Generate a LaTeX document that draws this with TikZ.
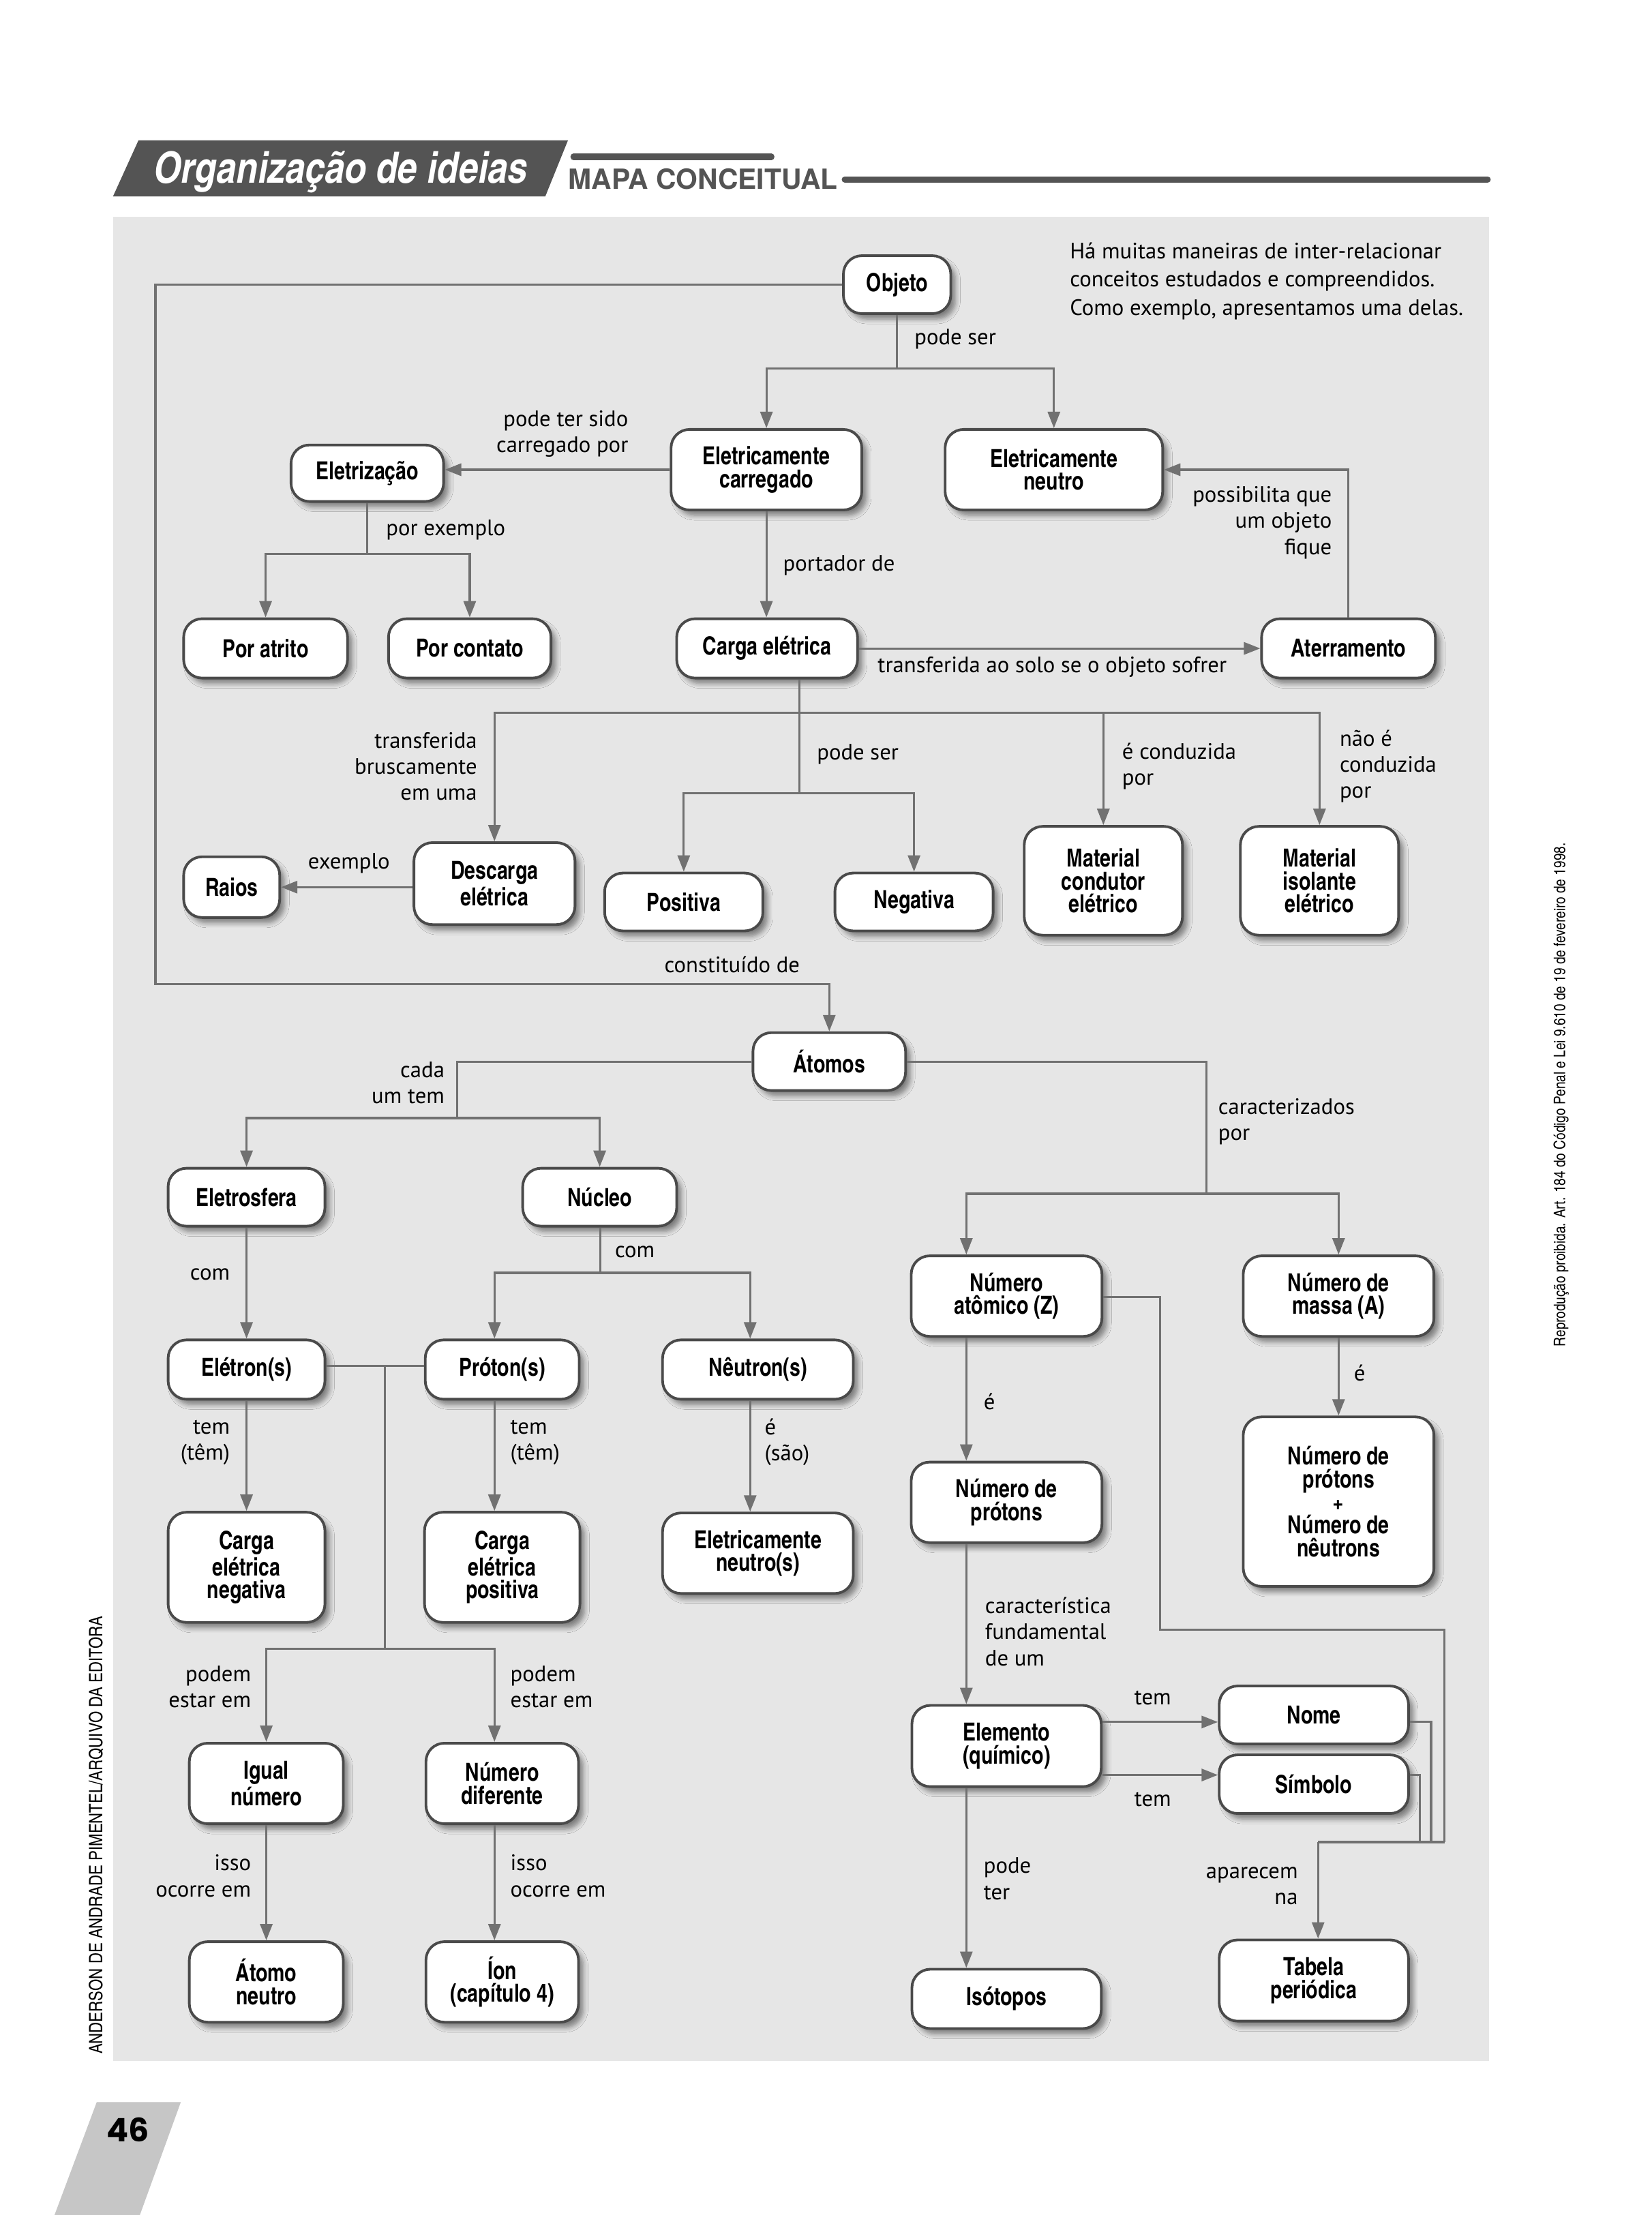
\documentclass[tikz,border=0pt]{standalone}
\usepackage{fontspec}
\setmainfont{PT Sans}
\newfontfamily\cnbold[FakeStretch=0.95]{texgyreheroscn-bold.otf}
\newfontfamily\cnbolditalic{texgyreheroscn-bolditalic.otf}
\newfontfamily\cnregular{texgyreheroscn-regular.otf}
\newfontfamily\herosbold{texgyreheros-bold.otf}
\newfontfamily\pagenumfont{Poppins}
\usetikzlibrary{arrows.meta,shadows.blur,calc}

\definecolor{panelgray}{HTML}{E6E6E6}
\definecolor{headgray}{HTML}{545454}
\definecolor{tabgray}{HTML}{C6C6C6}
\definecolor{linkgray}{HTML}{717171}
\definecolor{boxedge}{HTML}{4A4A4A}

\tikzset{
  cbox/.style={draw=boxedge, line width=1.1pt, fill=white, rounded corners=2.7mm,
    align=center, inner sep=0pt, font=\cnbold\fontsize{10.4}{9.6}\selectfont,
    blur shadow={shadow xshift=0.7mm, shadow yshift=-0.8mm, shadow blur radius=0.7mm,
      shadow blur steps=6, shadow opacity=45}},
  link/.style={draw=linkgray, line width=0.9pt},
  linkarrow/.style={link, -{Triangle[length=2.4mm,width=1.8mm]}},
  lbl/.style={font=\fontsize{9.3}{10.9}\selectfont, inner sep=0pt},
  lblL/.style={lbl, anchor=west, align=left},
  lblR/.style={lbl, anchor=east, align=right},
}
% concept box: name, x, y, width, height, text (coordinates in layout units)
\newcommand\cbx[6]{\node[cbox, minimum width=#4*0.2072mm, minimum height=#5*0.2072mm] (#1) at (#2,#3) {#6};}

\begin{document}
\begin{tikzpicture}[x=0.2072mm, y=-0.2072mm]
\useasboundingbox (0,0) rectangle (1169,1568);
\fill[white] (0,0) rectangle (1169,1568);

% header
\fill[headgray] (98,99.4) -- (402,99.4) -- (386,139) -- (80,139) -- cycle;
\node[font=\cnbolditalic\fontsize{18}{20}\selectfont, text=white, inner sep=0pt] (title) at (241,122) {Organização de ideias};
\draw[headgray, line width=2.6pt, line cap=round] (406,111) -- (546,111);
\node[anchor=base west, inner sep=0pt, font=\herosbold\fontsize{11.6}{12}\selectfont, text=headgray] (mapa) at (402,134) {MAPA CONCEITUAL};
\draw[headgray, line width=2.6pt, line cap=round] (598,127) -- (1053,127);

% panel
\fill[panelgray] (80,153.5) rectangle (1054,1459);

% page tab
\fill[tabgray] (68.5,1488) -- (128,1488) -- (99,1568) -- (38.6,1568) -- cycle;
\node[font=\pagenumfont\bfseries\fontsize{13.5}{14}\selectfont, inner sep=0pt] (pagenum) at (90.5,1507.5) {46};

% side notes
\node[rotate=90, inner sep=0pt, font=\cnregular\fontsize{6.6}{7}\selectfont] (rights) at (1105,775) {Reprodução proibida. Art. 184 do Código Penal e Lei 9.610 de 19 de fevereiro de 1998.};
\node[rotate=90, inner sep=0pt, font=\cnregular\fontsize{7.7}{8}\selectfont] (credit) at (68,1299) {ANDERSON DE ANDRADE PIMENTEL/ARQUIVO DA EDITORA};

% intro
\node[lblL, font=\fontsize{9.3}{11.8}\selectfont] (intro) at (757,199) {Há muitas maneiras de inter-relacionar\\conceitos estudados e compreendidos.\\Como exemplo, apresentamos uma delas.};

% concept boxes
\cbx{obj}{635}{201.5}{76}{41}{Objeto}
\cbx{carr}{542.5}{332.5}{135}{57}{Eletricamente\\carregado}
\cbx{neu}{746}{332.5}{154}{57}{Eletricamente\\neutro}
\cbx{eletr}{260}{335}{108}{40}{Eletrização}
\cbx{atrito}{188}{459}{116}{42}{Por atrito}
\cbx{contato}{332.5}{459}{115}{42}{Por contato}
\cbx{carga}{543}{459}{128}{42}{Carga elétrica}
\cbx{ater}{954.5}{459}{123}{42}{Aterramento}
\cbx{raios}{164}{628}{68}{43}{Raios}
\cbx{desc}{350}{625.5}{114}{58}{Descarga\\elétrica}
\cbx{pos}{484}{638.5}{112}{41}{Positiva}
\cbx{neg}{647}{638.5}{112}{41}{Negativa}
\cbx{cond}{781}{623.5}{112}{77}{Material\\condutor\\elétrico}
\cbx{isol}{934}{623.5}{112}{77}{Material\\isolante\\elétrico}
\cbx{atomos}{587}{751.5}{108}{41}{Átomos}
\cbx{eletro}{174.5}{847.5}{111}{41}{Eletrosfera}
\cbx{nucleo}{424.5}{847.5}{109}{41}{Núcleo}
\cbx{eletron}{174.5}{969.5}{111}{42}{Elétron(s)}
\cbx{proton}{355.5}{969.5}{109}{42}{Próton(s)}
\cbx{neutron}{536.5}{969.5}{135}{42}{Nêutron(s)}
\cbx{cneg}{174.5}{1109.5}{111}{78}{Carga\\elétrica\\negativa}
\cbx{cpos}{355.5}{1109.5}{110}{78}{Carga\\elétrica\\positiva}
\cbx{eneu}{536.5}{1099.5}{135}{57}{Eletricamente\\neutro(s)}
\cbx{igual}{188.5}{1262.5}{109}{57}{Igual\\número}
\cbx{dif}{355.5}{1262.5}{108}{57}{Número\\diferente}
\cbx{aneu}{188.5}{1403}{109}{57}{Átomo\\neutro}
\cbx{ion}{355.5}{1403}{108}{57}{Íon\\(capítulo 4)}
\cbx{natom}{712.5}{917.5}{135}{57}{Número\\atômico (Z)}
\cbx{nmassa}{947.5}{917.5}{135}{57}{Número de\\massa (A)}
\cbx{soma}{947.5}{1063}{135}{120}{Número de\\prótons\\+\\Número de\\nêutrons}
\cbx{nprot}{712.5}{1063.5}{135}{57}{Número de\\prótons}
\cbx{elem}{712.5}{1236}{134}{57.5}{Elemento\\(químico)}
\cbx{nome}{930}{1214}{134}{41}{Nome}
\cbx{simb}{930}{1263}{134}{41.5}{Símbolo}
\cbx{isot}{712.5}{1415}{134}{42}{Isótopos}
\cbx{tabela}{930}{1402}{134}{57.5}{Tabela\\periódica}

% routing columns and rows
\coordinate (x350) at (350,0);
\coordinate (x531) at (531,0);
\coordinate (x684) at (684,0);
\coordinate (yNo) at (0,1219);
\coordinate (ySi) at (0,1256.5);
\coordinate (y918) at (0,918);

% Objeto
\coordinate (jObj) at (635,261);
\draw[link] (obj.south) -- (jObj);
\draw[linkarrow] (jObj) -| (carr.north);
\draw[linkarrow] (jObj) -| (neu.north);
\draw[linkarrow] (carr.west) -- (carr.west -| eletr.east);
\coordinate (jEl) at (260,392);
\draw[link] (eletr.south) -- (jEl);
\draw[linkarrow] (jEl) -| (atrito.north);
\draw[linkarrow] (jEl) -| (contato.north);
\draw[linkarrow] (carr.south) -- (carga.north -| carr.south);
\draw[linkarrow] (carga.east) -- (ater.west);
\draw[linkarrow] (ater.north) |- (neu.east);

% Carga elétrica
\coordinate (jCg) at (566,504.5);
\coordinate (jPs) at (566,561.5);
\draw[link] (carga.south -| jCg) -- (jPs);
\draw[linkarrow] (jCg) -| (desc.north);
\draw[linkarrow] (jCg) -| (cond.north);
\draw[linkarrow] (jCg) -| (isol.north);
\draw[linkarrow] (jPs) -| (pos.north);
\draw[linkarrow] (jPs) -| (neg.north);
\draw[linkarrow] (desc.west |- raios.east) -- (raios.east);

% Objeto -> Átomos
\coordinate (jLoop) at (110,696.5);
\draw[linkarrow] (obj.west) -| (jLoop) -| (atomos.north);

% Átomos
\coordinate (jAl) at (323.5,791.5);
\draw[link] (atomos.west) -| (jAl);
\draw[linkarrow] (jAl) -| (eletro.north);
\draw[linkarrow] (jAl) -| (nucleo.north);
\coordinate (jAr) at (854,845);
\draw[link] (atomos.east) -| (jAr);
\draw[linkarrow] (jAr) -| (natom.north -| x684);
\draw[linkarrow] (jAr) -| (nmassa.north);

% Eletrosfera and Núcleo
\draw[linkarrow] (eletro.south) -- (eletron.north);
\coordinate (jNu) at (425,901);
\draw[link] (nucleo.south -| jNu) -- (jNu);
\draw[linkarrow] (jNu) -| (proton.north -| x350);
\draw[linkarrow] (jNu) -| (neutron.north -| x531);
\draw[linkarrow] (eletron.south) -- (cneg.north);
\draw[linkarrow] (proton.south -| x350) -- (cpos.north -| x350);
\draw[linkarrow] (neutron.south -| x531) -- (eneu.north -| x531);

% Elétron(s) / Próton(s)
\coordinate (jEP) at (272.5,967);
\coordinate (jPd) at (272.5,1167);
\draw[link] (eletron.east |- jEP) -- (proton.west |- jEP);
\draw[link] (jEP) -- (jPd);
\draw[linkarrow] (jPd) -| (igual.north);
\draw[linkarrow] (jPd) -| (dif.north -| x350);
\draw[linkarrow] (igual.south) -- (aneu.north);
\draw[linkarrow] (dif.south -| x350) -- (ion.north -| x350);

% right column
\draw[linkarrow] (natom.south -| x684) -- (nprot.north -| x684);
\draw[linkarrow] (nprot.south -| x684) -- (elem.north -| x684);
\draw[linkarrow] (elem.south -| x684) -- (isot.north -| x684);
\draw[linkarrow] (nmassa.south) -- (soma.north);
\draw[linkarrow] (elem.east |- yNo) -- (nome.west |- yNo);
\draw[linkarrow] (elem.east |- ySi) -- (simb.west |- ySi);

% to Tabela periódica
\coordinate (tA) at (821,1153.5);
\coordinate (tB) at (1022.5,1304);
\coordinate (tC) at (1013,1304);
\coordinate (tD) at (1005,1304);
\coordinate (tE) at (933,1304);
\draw[link] (natom.east |- y918) -| (tA) -| (tB);
\draw[link] (nome.east |- yNo) -| (tC);
\draw[link] (simb.east |- ySi) -| (tD);
\draw[link] (tB) -- (tE);
\draw[linkarrow] (tE) -- (tabela.north -| tE);

% link labels
\node[lblL] (l1) at (647,240) {pode ser};
\node[lblR] (l2) at (445,307) {pode ter sido\\carregado por};
\node[lblL] (l3) at (273,375) {por exemplo};
\node[lblL] (l4) at (554,400) {portador de};
\node[lblL] (l5) at (621,472) {transferida ao solo se o objeto sofrer};
\node[lblR] (l6) at (943,370) {possibilita que\\um objeto\\fique};
\node[lblR] (l7) at (338,542.5) {transferida\\bruscamente\\em uma};
\node[lblL] (l8) at (578,534) {pode ser};
\node[lblL] (l9) at (794,542.5) {é conduzida\\por};
\node[lblL] (l10) at (948,542.5) {não é\\conduzida\\por};
\node[lbl] (l11) at (247,611) {exemplo};
\node[lblL] (l12) at (470,683) {constituído de};
\node[lblR] (l13) at (315,766.5) {cada\\um tem};
\node[lblL] (l14) at (862,794) {caracterizados\\por};
\node[lblR] (l15) at (163,902) {com};
\node[lblL] (l16) at (435,886) {com};
\node[lblR] (l17) at (163,1021) {tem\\(têm)};
\node[lblL] (l18) at (361,1021) {tem\\(têm)};
\node[lblL] (l19) at (541,1021) {é\\(são)};
\node[lblR] (l20) at (178,1194) {podem\\estar em};
\node[lblL] (l21) at (361,1194) {podem\\estar em};
\node[lblR] (l22) at (178,1328) {isso\\ocorre em};
\node[lblL] (l23) at (361,1328) {isso\\ocorre em};
\node[lblL] (l24) at (696,992) {é};
\node[lblL] (l25) at (958,972) {é};
\node[lblL] (l26) at (697,1155) {característica\\fundamental\\de um};
\node[lbl] (l27) at (816,1202) {tem};
\node[lbl] (l28) at (816,1274) {tem};
\node[lblL] (l29) at (696,1330) {pode\\ter};
\node[lblR] (l30) at (919,1335) {aparecem\\na};
\end{tikzpicture}
\end{document}
